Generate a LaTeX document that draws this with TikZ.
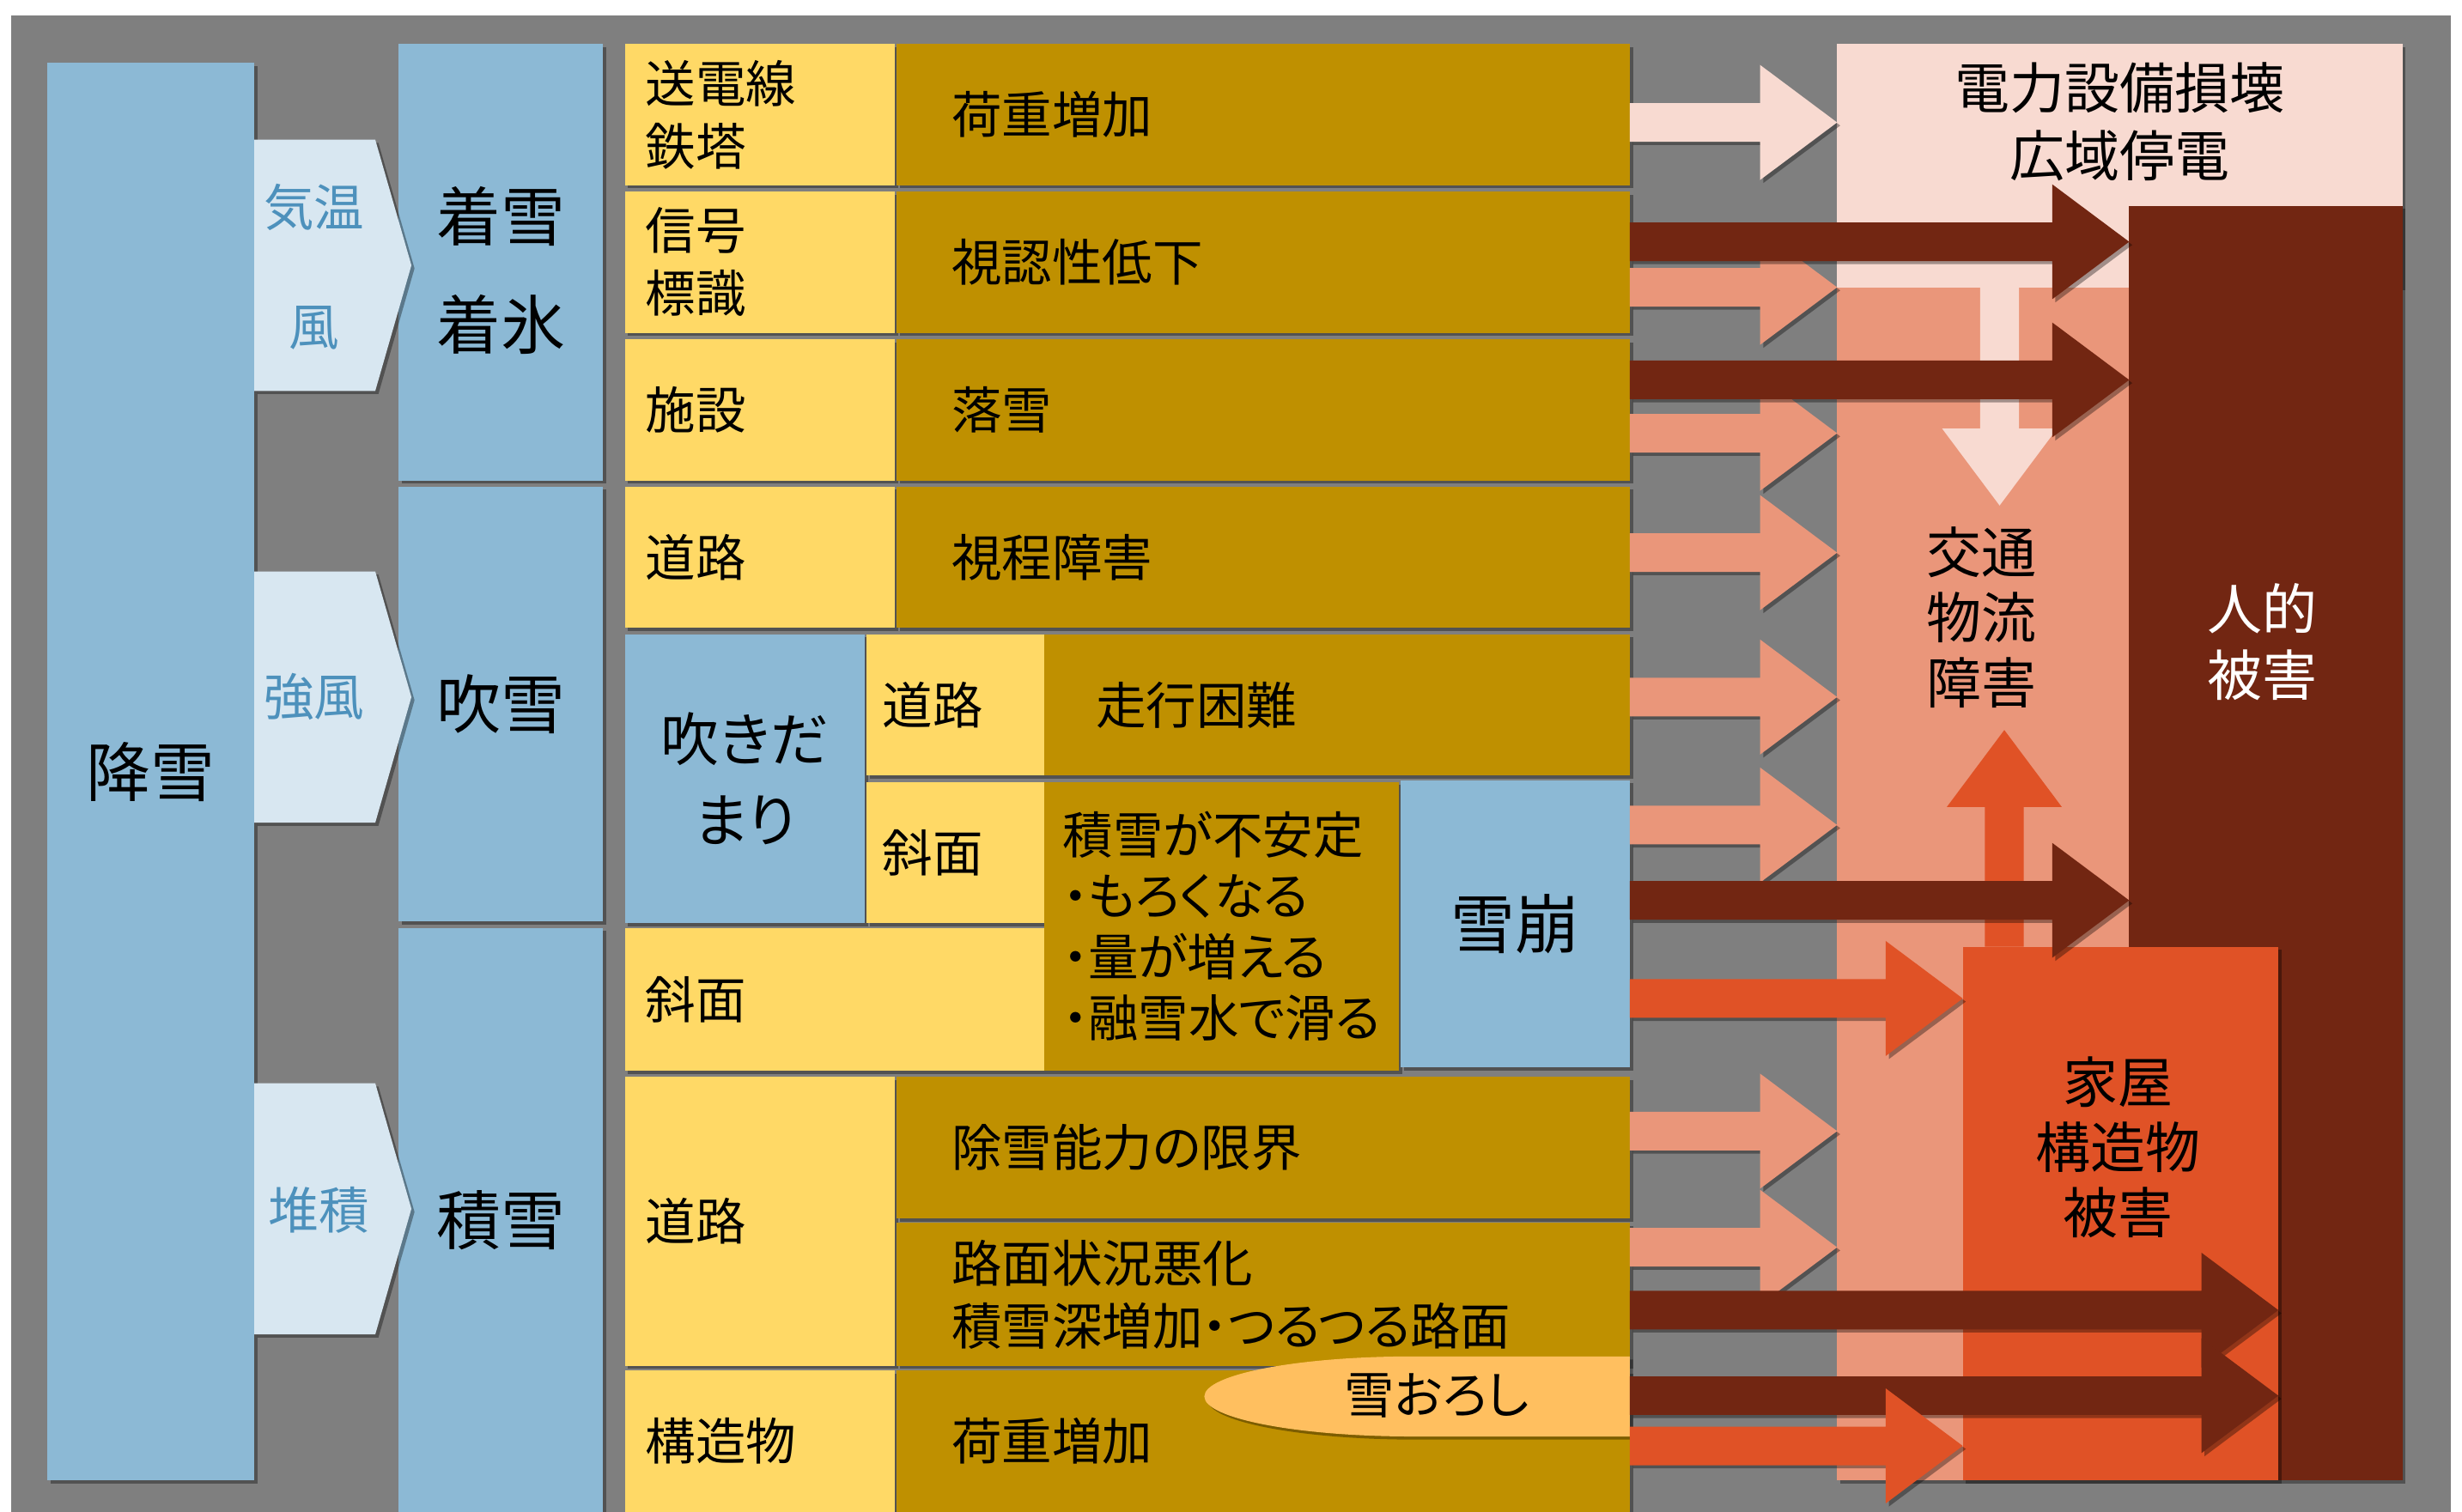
\documentclass[tikz,border=0pt]{standalone}
\usepackage{fontspec}
\setmainfont{Noto Sans CJK JP}[RawFeature=+palt]
\usetikzlibrary{calc,shadows}
\definecolor{bgray}{HTML}{7F7F7F}
\definecolor{sky}{HTML}{8CB9D5}
\definecolor{pale}{HTML}{D8E7F1}
\definecolor{steel}{HTML}{4D91BC}
\definecolor{cream}{HTML}{FFD966}
\definecolor{gold}{HTML}{BF9000}
\definecolor{peach}{HTML}{FFBF5F}
\definecolor{blush}{HTML}{F8DAD1}
\definecolor{salmon}{HTML}{EA967A}
\definecolor{flame}{HTML}{E05226}
\definecolor{rust}{HTML}{722612}

\begin{document}
\begin{tikzpicture}[x=1pt, y=-1pt,
    shadowed/.style={drop shadow={shadow xshift=2pt, shadow yshift=-2pt, opacity=0.35, fill=black}},
    box/.style={anchor=north west, inner ysep=0pt, outer sep=0pt, shadowed},
    big/.style={font=\fontsize{41}{69}\selectfont},
    mid/.style={font=\fontsize{32}{40}\selectfont},
    rgt/.style={font=\fontsize{35}{42}\selectfont, align=center},
    side/.style={font=\fontsize{32}{76}\selectfont, text=steel, align=center},
    skybox/.style={box, fill=sky, inner xsep=0pt, minimum width=#1pt, big, align=center},
    ycell/.style={box, fill=cream, mid, inner xsep=13pt, text width=146pt, minimum height=90pt, align=left},
    gcell/.style={box, fill=gold, mid, inner xsep=35pt, text width=397pt, minimum height=90pt, align=left},
    harrow/.style={to path={let \p1=(\tikztostart), \p2=(\tikztotarget) in
        (\x1,\y1+12.3pt) -- (\x2-49pt,\y1+12.3pt) -- (\x2-49pt,\y1+36.6pt) -- (\x2,\y1)
        -- (\x2-49pt,\y1-36.6pt) -- (\x2-49pt,\y1-12.3pt) -- (\x1,\y1-12.3pt) -- cycle}},
    varrow/.style={to path={let \p1=(\tikztostart), \p2=(\tikztotarget) in
        ({\x1-12.4pt},{\y2-(#1)}) -- ({\x1-36.6pt},{\y2-(#1)}) -- (\x1,\y2)
        -- ({\x1+36.6pt},{\y2-(#1)}) -- ({\x1+12.4pt},{\y2-(#1)}) -- ({\x1+12.4pt},\y1)
        -- ({\x1-12.4pt},\y1) -- cycle}}]

    \useasboundingbox (0,0) rectangle (1568,962.6);
    \fill[bgray] (7,10) rectangle (1561,963);

    \node[skybox=132, minimum height=903pt] (kousetsu) at (30,40) {降雪};
    \node[skybox=130, minimum height=278pt] (chakusetsu) at (254,28) {\rule{0pt}{45pt}着雪\\着氷};
    \node[skybox=130, minimum height=277pt] (fubuki) at (254,310) {吹雪};
    \node[skybox=130, minimum height=372pt] (sekisetsu) at (254,591) {積雪};

    \fill[pale, shadowed] (162,89) -- (239,89) -- (262,169) -- (239,249) -- (162,249) -- cycle;
    \fill[pale, shadowed] (162,364) -- (239,364) -- (262,444) -- (239,524) -- (162,524) -- cycle;
    \fill[pale, shadowed] (162,690) -- (239,690) -- (262,770) -- (239,850) -- (162,850) -- cycle;
    \node[side] (kion) at (200,170) {気温\\風};
    \node[side] (kyoufuu) at (200,444) {強風};
    \node[side] (taiseki) at (203,771) {堆積};

    \node[ycell] (souden) at (398,28) {送電線\\鉄塔};
    \node[ycell] (shingou) at (398,122) {信号\\標識};
    \node[ycell] (shisetsu) at (398,216) {施設};
    \node[ycell] (douro) at (398,310) {道路};
    \node[skybox=153, minimum height=184pt, font=\fontsize{37}{51}\selectfont] (fukidamari) at (398,404) {吹きだ\\まり};
    \node[ycell, inner xsep=10pt, text width=93pt] (douro2) at (552,404) {道路};
    \node[ycell, inner xsep=10pt, text width=93pt] (shamen) at (552,498) {斜面};
    \node[ycell, text width=241pt, minimum height=91pt] (shamen2) at (398,591) {斜面};
    \node[ycell, minimum height=184pt] (douro3) at (398,686) {道路};
    \node[ycell] (kouzou) at (398,873) {構造物};

    \node[gcell] (kajuu) at (571,28) {荷重増加};
    \node[gcell] (shinin) at (571,122) {視認性低下};
    \node[gcell] (rakusetsu) at (571,216) {落雪};
    \node[gcell] (shitei) at (571,310) {視程障害};
    \node[gcell, inner xsep=33pt, text width=307pt] (soukou) at (665,404) {走行困難};
    \node[gcell, inner xsep=12pt, text width=202pt, minimum height=184pt, font=\fontsize{32}{38.7}\selectfont] (fuantei) at (665,498) {積雪が不安定\\・もろくなる\\・量が増える\\・融雪水で滑る};
    \node[skybox=146, minimum height=183pt] (nadare) at (892,497) {雪崩};
    \node[gcell] (josetsu) at (571,686) {除雪能力の限界};
    \node[gcell, minimum height=91pt] (romen) at (571,779) {路面状況悪化\\積雪深増加・つるつる路面};
    \node[gcell] (kajuu2) at (571,873) {荷重増加};

    \fill[peach, shadowed] (1038,864) -- (900,864) arc[start angle=-90, end angle=-270, x radius=133, y radius=25.5] -- (1038,915) -- cycle;
    \node[mid] (oroshi) at (915,889) {雪おろし};

    \node[box, fill=blush, minimum width=360pt, minimum height=155pt] (denryoku) at (1170,28) {};
    \node[box, fill=salmon, minimum width=186pt, minimum height=760pt] (koutsuu) at (1170,183) {};
    \node[box, fill=rust, minimum width=174pt, minimum height=812pt] (jinteki) at (1356,131) {};
    \node[box, fill=flame, minimum width=201pt, minimum height=340pt] (kaoku) at (1250,603) {};

    \node[rgt, font=\fontsize{35}{43}\selectfont] (denryokut) at (1350,77.5) {電力設備損壊\\広域停電};
    \node[rgt, font=\fontsize{35}{41.5}\selectfont] (koutsuut) at (1262,393.5) {交通\\物流\\障害};
    \node[rgt, text=white] (jintekit) at (1441,409) {人的\\被害};
    \node[rgt, font=\fontsize{35}{41.5}\selectfont] (kaokut) at (1349,731) {家屋\\構造物\\被害};

    \coordinate (dn0) at ($(denryoku.south)+(-76.5,0)$);
    \coordinate (dn1) at ($(dn0)+(0,139)$);
    \coordinate (up0) at ($(kaoku.north)+(-74,0)$);
    \coordinate (up1) at ($(up0)+(0,-138)$);
    \fill[blush] (dn0) to[varrow=-49pt] (dn1);
    \fill[flame] (up0) to[varrow=49pt] (up1);

    \coordinate (kajuuL) at ($(kajuu.east)+(0,5)$);
    \coordinate (shininD) at ($(shinin.east)+(0,-13)$);
    \coordinate (shininS) at ($(shinin.east)+(0,16)$);
    \coordinate (rakuD) at ($(rakusetsu.east)+(0,-19)$);
    \coordinate (rakuS) at ($(rakusetsu.east)+(0,15)$);
    \coordinate (shiteiS) at ($(shitei.east)+(0,-3)$);
    \coordinate (soukouS) at ($(soukou.east)+(0,-5)$);
    \coordinate (nadareS) at ($(nadare.east)+(0,-63)$);
    \coordinate (nadareD) at ($(nadare.east)+(0,-15)$);
    \coordinate (nadareO) at ($(nadare.east)+(0,47.5)$);
    \coordinate (josetsuS) at ($(josetsu.east)+(0,-10.5)$);
    \coordinate (romenS) at ($(romen.east)+(0,-30)$);
    \coordinate (romenD) at ($(romen.east)+(0,10)$);
    \coordinate (oroshiD) at (oroshi -| kajuu2.east);
    \coordinate (kajuuO) at ($(kajuu2.east)+(0,3)$);

    \fill[blush, shadowed] (kajuuL) to[harrow] (kajuuL -| denryoku.west);
    \fill[salmon, shadowed] (shininS) to[harrow] (shininS -| koutsuu.west);
    \fill[salmon, shadowed] (rakuS) to[harrow] (rakuS -| koutsuu.west);
    \fill[salmon, shadowed] (shiteiS) to[harrow] (shiteiS -| koutsuu.west);
    \fill[salmon, shadowed] (soukouS) to[harrow] (soukouS -| koutsuu.west);
    \fill[salmon, shadowed] (nadareS) to[harrow] (nadareS -| koutsuu.west);
    \fill[salmon, shadowed] (josetsuS) to[harrow] (josetsuS -| koutsuu.west);
    \fill[salmon, shadowed] (romenS) to[harrow] (romenS -| koutsuu.west);
    \fill[rust, shadowed] (shininD) to[harrow] (shininD -| jinteki.west);
    \fill[rust, shadowed] (rakuD) to[harrow] (rakuD -| jinteki.west);
    \fill[rust, shadowed] (nadareD) to[harrow] (nadareD -| jinteki.west);
    \fill[rust, shadowed] (romenD) to[harrow] (romenD -| kaoku.east);
    \fill[rust, shadowed] (oroshiD) to[harrow] (oroshiD -| kaoku.east);
    \fill[flame, shadowed] (nadareO) to[harrow] (nadareO -| kaoku.west);
    \fill[flame, shadowed] (kajuuO) to[harrow] (kajuuO -| kaoku.west);
\end{tikzpicture}
\end{document}
